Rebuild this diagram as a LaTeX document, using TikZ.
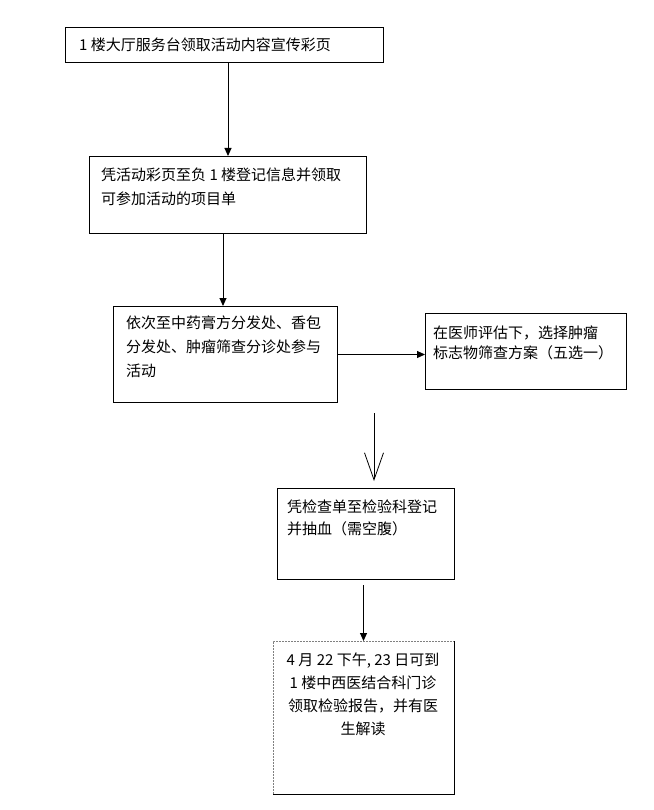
\documentclass[tikz,border=0pt]{standalone}
\usepackage{fontspec}
\setmainfont{Noto Sans CJK SC}
\usetikzlibrary{arrows.meta}
\tikzset{
  stepbox/.style={draw, line width=1pt, inner sep=0pt, anchor=north west},
  steptext/.style={anchor=north west, inner sep=0pt, align=left},
  flow/.style={-{Triangle[width=7pt,length=8pt]}, line width=1pt},
  openflow/.style={-{Straight Barb[width=19pt,length=27pt,line width=0.8pt]}, line width=0.8pt},
}
\newcommand{\stepfont}[1]{\fontsize{15}{#1}\selectfont}
\begin{document}
\begin{tikzpicture}[x=1pt, y=-1pt]
  \useasboundingbox (0,0) rectangle (653,810);

  % boxes of the flow
  \node[stepbox, minimum width=318pt, minimum height=35pt] (b1) at (65,27) {};
  \node[stepbox, minimum width=277pt, minimum height=77pt] (b2) at (89,156) {};
  \node[stepbox, minimum width=224pt, minimum height=96pt] (b3) at (113,306) {};
  \node[stepbox, minimum width=201pt, minimum height=76pt] (b4) at (425,313) {};
  \node[stepbox, minimum width=177pt, minimum height=91pt] (b5) at (277,488) {};
  \node[stepbox, draw=none, minimum width=180pt, minimum height=152pt] (b6) at (273,641) {};
  \draw[gray, dash pattern=on 2pt off 1pt, line width=0.7pt] (b6.south west) -- (b6.north west) -- (b6.north east);
  \draw[line width=1pt] (b6.north east) -- (b6.south east) -- (b6.south west);

  % texts
  \node[steptext, font=\stepfont{24}] (t1) at (79,37.5) {1 楼大厅服务台领取活动内容宣传彩页};
  \node[steptext, font=\stepfont{24}] (t2) at (101,167.5) {凭活动彩页至负 1 楼登记信息并领取\\可参加活动的项目单};
  \node[steptext, font=\stepfont{24}] (t3) at (126,315.5) {依次至中药膏方分发处、香包\\分发处、肿瘤筛查分诊处参与\\活动};
  \node[steptext, font=\stepfont{20}] (t4) at (433,325.5) {在医师评估下，选择肿瘤\\标志物筛查方案（五选一）};
  \node[steptext, font=\stepfont{22}] (t5) at (287,499.5) {凭检查单至检验科登记\\并抽血（需空腹）};
  \node[steptext, anchor=north, align=center, font=\stepfont{23}] (t6) at (363,652.5) {4 月 22 下午, 23 日可到\\1 楼中西医结合科门诊\\领取检验报告，并有医\\生解读};

  % connectors
  \draw[flow] (b1.south -| b2.north) -- (b2.north);
  \draw[flow] ([xshift=-5pt]b2.south) -- ([xshift=-5pt]b2.south |- b3.north);
  \draw[flow] (b3.east) -- (b4.west |- b3.east);
  \coordinate (gaptop) at (374,413);
  \coordinate (gapend) at (374,481);
  \draw[openflow] (gaptop) -- (gapend);
  \draw[flow] ([yshift=-5pt]b5.south -| b6.north) -- (b6.north);
\end{tikzpicture}
\end{document}
